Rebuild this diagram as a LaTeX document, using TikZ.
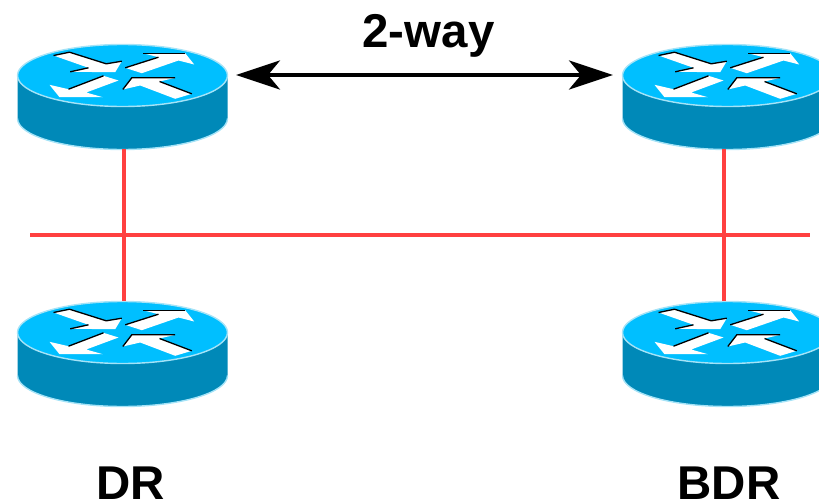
\documentclass[tikz,border=0pt]{standalone}
\usepackage{fontspec}
\setmainfont{Liberation Sans}
\usetikzlibrary{arrows.meta}
\definecolor{routertop}{HTML}{00BFFF}
\definecolor{routerside}{HTML}{0089B8}
\definecolor{routerrim}{HTML}{A5E3F7}
\definecolor{lanred}{HTML}{FF4040}
\tikzset{
  routerbox/.style={minimum width=4.2cm, minimum height=2.1cm, inner sep=0pt, outer sep=0pt},
  lan/.style={draw=lanred, line width=2.5pt},
  label/.style={font=\bfseries\fontsize{27}{30}\selectfont, inner sep=0pt, anchor=base},
  flag/.style={fill=white, draw=none},
  flagedge/.style={draw=black, line width=0.75pt},
  hello/.style={{Stealth[length=25pt, width=16.5pt, inset=6.8pt]}-{Stealth[length=25pt, width=16.5pt, inset=6.8pt]}, line width=2.6pt},
  pics/router/.style={code={
    \fill[routerside] (-105,-21) -- (-105,22) arc[start angle=180, end angle=0, x radius=105, y radius=31]
                      -- (105,-21) -- cycle;
    \draw[routerrim, line width=0.8pt] (-105,22) arc[start angle=180, end angle=0, x radius=105, y radius=31];
    \filldraw[fill=routertop, draw=routerrim, line width=0.8pt] (0,-21) ellipse[x radius=105, y radius=31];
    % the four arrows on the lid
    \begin{scope}[yshift=0.42cm]
      \fill[flag] (-69,-20) -- (-53,-23.3) -- (-16.3,-11.7) -- (-0.7,-14.3) -- (-7.3,-3.3) -- (-52.3,-3.7) -- (-34,-7.7) -- cycle;
      \fill[flag] (2.7,-7.7) -- (36,-18.3) -- (20.3,-22.3) -- (62.7,-22.3) -- (71.7,-11) -- (56,-15) -- (19.3,-2.3) -- cycle;
      \fill[flag] (-4,5) -- (-19,0.3) -- (-54,13.7) -- (-73,9.3) -- (-63,21.7) -- (-19.7,21.7) -- (-36.3,17) -- cycle;
      \fill[flag] (69.3,18.3) -- (52.7,23.3) -- (17.7,10) -- (0.3,14) -- (9.3,2.3) -- (52.7,2.3) -- (37,6) -- cycle;
      \draw[flagedge] (-69,-20) -- (-53,-23.3) -- (-16.3,-11.7) -- (-0.7,-14.3);
      \draw[flagedge] (-52.3,-3.7) -- (-34,-7.7);
      \draw[flagedge] (2.7,-7.7) -- (36,-18.3);
      \draw[flagedge] (20.3,-22.3) -- (62.7,-22.3);
      \draw[flagedge] (-19,0.3) -- (-54,13.7);
      \draw[flagedge] (0.3,14) -- (9.3,2.3) -- (52.7,2.3);
      \draw[flagedge] (37,6) -- (69.3,18.3);
    \end{scope}
    \node[routerbox] (-box) at (0,0) {};
  }}
}

\begin{document}
\begin{tikzpicture}[x=0.02cm, y=-0.02cm]
  \useasboundingbox (0,0) rectangle (819,501);
  \clip (0,0) rectangle (819,501);

  \coordinate (lanL) at (30,235);
  \coordinate (lanR) at (810,235);
  \coordinate (helloL) at (236,75);
  \coordinate (helloR) at (613,75);

  \draw[lan] (lanL) -- (lanR);

  \pic (A) at (122.5,96.5) {router};
  \pic (B) at (727.5,96.5) {router};
  \pic (C) at (122.5,353.5) {router};
  \pic (D) at (727.5,353.5) {router};

  \draw[lan] ([xshift=0.03cm]A-box.south) -- ([xshift=0.03cm]C-box.north);
  \draw[lan] ([xshift=-0.07cm]B-box.south) -- ([xshift=-0.07cm]D-box.north);

  \draw[hello] (helloL) -- (helloR);

  \node[label] (way) at (428.5,47) {2-way};
  \node[label] (dr) at (130.5,499.5) {DR};
  \node[label] (bdr) at (729,499.5) {BDR};
\end{tikzpicture}
\end{document}
